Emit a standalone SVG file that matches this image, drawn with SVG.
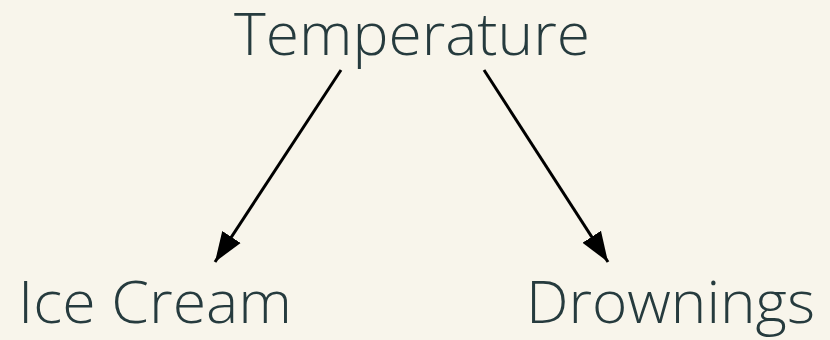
<svg xmlns="http://www.w3.org/2000/svg" width="830" height="340" viewBox="0 0 830 340">
<style>
.lbl{font-family:"Open Sans","Noto Sans","Liberation Sans",sans-serif;font-weight:300;font-size:58px;fill:#263b3e}
.edge{stroke:#000;stroke-width:3;fill:none}
</style>
<defs>
<marker id="ah" markerUnits="userSpaceOnUse" markerWidth="32" markerHeight="24" refX="30" refY="11" orient="auto" viewBox="0 0 32 22">
<path d="M0,0 L30,11 L0,22 Z" fill="#000"/>
</marker>
</defs>
<rect width="830" height="340" fill="#f8f5eb"/>
<g id="edges">
<line class="edge" x1="341" y1="70" x2="215" y2="262" marker-end="url(#ah)"/>
<line class="edge" x1="484" y1="70" x2="608" y2="262" marker-end="url(#ah)"/>
</g>
<g id="temperature"><text class="lbl" x="234" y="55" textLength="356" lengthAdjust="spacingAndGlyphs">Temperature</text></g>
<g id="icecream"><text class="lbl" x="18" y="323" textLength="274" lengthAdjust="spacingAndGlyphs">Ice Cream</text></g>
<g id="drownings"><text class="lbl" x="526" y="323" textLength="289" lengthAdjust="spacingAndGlyphs">Drownings</text></g>
</svg>
